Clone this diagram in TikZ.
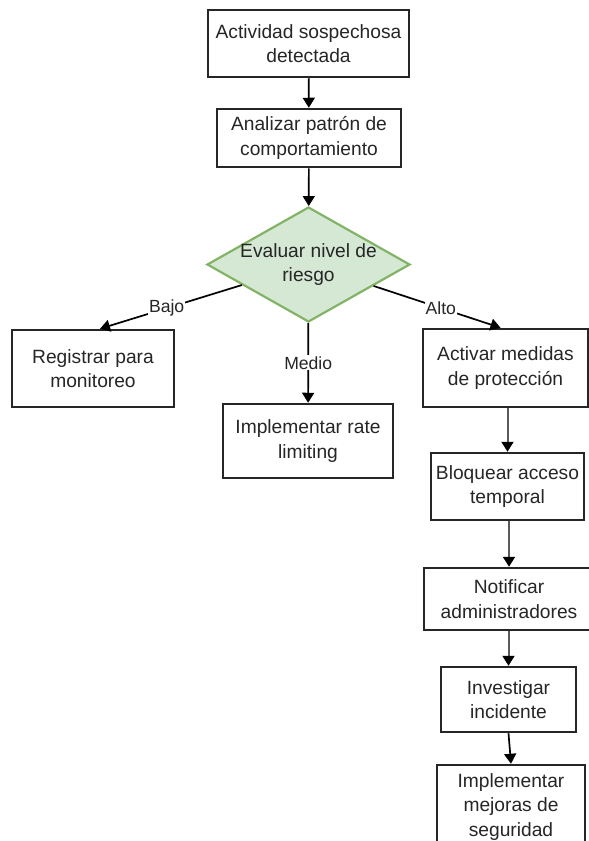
\documentclass[tikz,border=0pt]{standalone}
\usepackage{fontspec}
\setmainfont{Liberation Sans}
\usetikzlibrary{shapes.geometric,arrows.meta}
\definecolor{txtc}{HTML}{262626}
\definecolor{dfill}{HTML}{D5E8D4}
\definecolor{dline}{HTML}{82B366}
\definecolor{grayline}{HTML}{5A5A5A}
\tikzset{
  box/.style={draw=black!85, line width=2.5pt, fill=white, align=center,
    text=txtc, inner sep=2pt, font=\fontsize{19.2}{24.5}\selectfont},
  decision/.style={diamond, draw=dline, line width=2.2pt, fill=dfill, inner sep=0pt},
  dtext/.style={align=center, text=txtc, font=\fontsize{19.2}{23.5}\selectfont},
  flow/.style={line width=1.7pt, draw=black, -{Triangle[width=12pt,length=10pt]}},
  grayflow/.style={line width=2pt, draw=grayline, -{Triangle[width=12pt,length=10pt,color=black]}},
  elabel/.style={fill=white, inner sep=1pt, text=txtc, font=\fontsize{17.6}{20}\selectfont}
}
\begin{document}
\begin{tikzpicture}[x=1pt, y=-1pt]
  \useasboundingbox (0,0) rectangle (589,841);

  % main trunk
  \node[box, minimum width=201pt, minimum height=67pt] (start) at (308.5,43.5) {Actividad sospechosa\\detectada};
  \node[box, minimum width=184pt, minimum height=58pt] (analyze) at (309,138) {Analizar patrón de\\comportamiento};
  \node[decision, minimum width=203pt, minimum height=115pt] (risk) at (308.5,264.5) {};
  \node[dtext] (risktext) at (risk) {Evaluar nivel de\\riesgo};

  % three branches
  \node[box, minimum width=162pt, minimum height=77pt] (low) at (93,368.5) {Registrar para\\monitoreo};
  \node[box, minimum width=170pt, minimum height=74pt] (mid) at (308,441) {Implementar rate\\limiting};
  \node[box, minimum width=165pt, minimum height=78pt] (high) at (505.5,368) {Activar medidas\\de protección};

  % high-risk chain
  \node[box, minimum width=153pt, minimum height=67pt] (block) at (507.5,486.5) {Bloquear acceso\\temporal};
  \node[box, minimum width=170pt, minimum height=62pt] (notify) at (509,599) {Notificar\\administradores};
  \node[box, minimum width=135pt, minimum height=65pt] (invest) at (508.5,699.5) {Investigar\\incidente};
  \node[box, minimum width=148pt, minimum height=84pt] (improve) at (511,807) {Implementar\\mejoras de\\seguridad};

  % connectors
  \draw[flow] (start) -- (analyze);
  \draw[flow] (analyze) -- (risk);
  \draw[flow] (risk) -- node[elabel, pos=0.53] {Bajo} ([xshift=7pt]low.north);
  \draw[flow] (risk) -- node[elabel, pos=0.5] {Medio} (mid);
  \draw[flow] (risk) -- node[elabel, pos=0.53] {Alto} ([xshift=-5pt]high.north);
  \draw[grayflow] (block.north |- high.south) -- (block.north);
  \draw[grayflow] (notify.north |- block.south) -- (notify.north);
  \draw[grayflow] (invest.north |- notify.south) -- (invest.north);
  \draw[flow] (invest.south) -- (improve.north);
\end{tikzpicture}
\end{document}
